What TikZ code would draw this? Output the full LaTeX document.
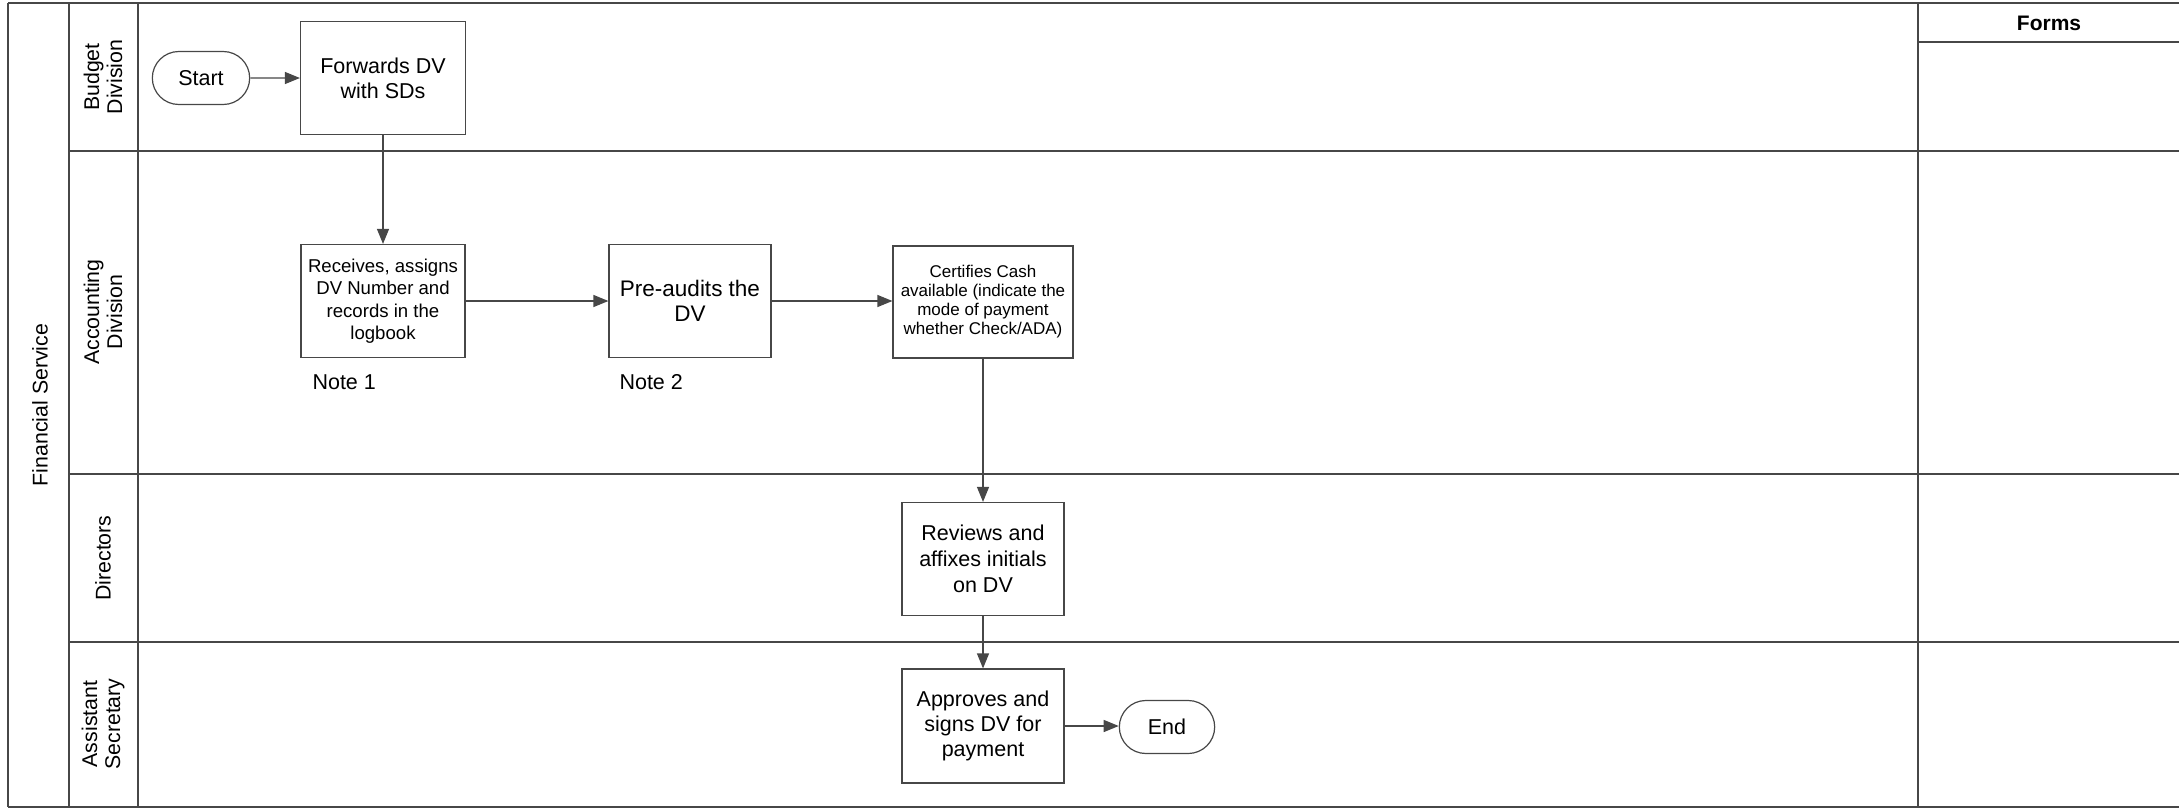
\documentclass[tikz,border=0pt]{standalone}
\usepackage{fontspec}
\setmainfont{Liberation Sans}
\usetikzlibrary{arrows.meta,shapes.misc}
\begin{document}
\begin{tikzpicture}[x=1pt,y=-1pt,
  line/.style={draw=black!72, line width=1.2pt},
  proc/.style={line, rectangle, align=center, inner sep=2pt},
  term/.style={line, rounded rectangle, minimum height=53pt, font=\fontsize{21.5}{25}\selectfont},
  flow/.style={line, -{Triangle[length=15pt,width=12pt]}},
  lanelbl/.style={rotate=90, align=center, font=\fontsize{21.3}{23}\selectfont},
  note/.style={anchor=west, font=\fontsize{21.5}{25}\selectfont}
]
\useasboundingbox (0,0) rectangle (2179,809);
% grid
\draw[line] (8,3) -- (2179,3);
\draw[line] (8,3) -- (8,807);
\draw[line] (69,3) -- (69,807);
\draw[line] (138,3) -- (138,807);
\draw[line] (1918,3) -- (1918,807);
\draw[line] (1918,42) -- (2179,42);
\draw[line] (69,151) -- (2179,151);
\draw[line] (69,474) -- (2179,474);
\draw[line] (69,642) -- (2179,642);
\draw[line] (8,807) -- (2179,807);
% labels
\node[lanelbl] (fs) at (40,405) {Financial Service};
\node[lanelbl] (lb) at (103,77) {Budget\\Division};
\node[lanelbl] (la) at (103,312) {Accounting\\Division};
\node[lanelbl] (ld) at (103,558) {Directors};
\node[lanelbl] (ls) at (103,724) {Assistant\\Secretary};
\node[font=\fontsize{21}{24}\selectfont\bfseries] (forms) at (2049,23) {Forms};
% nodes
\node[term, minimum width=104pt] (start) at (201,78) {Start};
\node[proc, minimum width=165pt, minimum height=113pt, font=\fontsize{21.5}{25}\selectfont] (fwd) at (383,78) {Forwards DV\\with SDs};
\node[proc, minimum width=164pt, minimum height=113pt, font=\fontsize{18.6}{22.5}\selectfont] (rcv) at (383,301) {Receives, assigns\\DV Number and\\records in the\\logbook};
\node[proc, minimum width=162pt, minimum height=113pt, font=\fontsize{22.5}{25.5}\selectfont] (pre) at (690,301) {Pre-audits the\\DV};
\node[proc, minimum width=180pt, minimum height=112pt, font=\fontsize{17}{19}\selectfont] (cert) at (983,302) {Certifies Cash\\available (indicate the\\mode of payment\\whether Check/ADA)};
\node[proc, minimum width=162pt, minimum height=113pt, font=\fontsize{21.5}{26}\selectfont] (rev) at (983,559) {Reviews and\\affixes initials\\on DV};
\node[proc, minimum width=162pt, minimum height=114pt, font=\fontsize{21.5}{25}\selectfont] (app) at (983,726) {Approves and\\signs DV for\\payment};
\node[term, minimum width=102pt] (end) at (1167,727) {End};
\node[note] (n1) at (309,382) {Note 1};
\node[note] (n2) at (616,382) {Note 2};
% connectors
\draw[flow] (start) -- (fwd);
\draw[flow] (fwd) -- (rcv);
\draw[flow] (rcv) -- (pre);
\draw[flow] (pre) -- (pre -| cert.west);
\draw[flow] (cert) -- (rev);
\draw[flow] (rev) -- (app);
\draw[flow] (app) -- (app -| end.west);
\end{tikzpicture}
\end{document}
